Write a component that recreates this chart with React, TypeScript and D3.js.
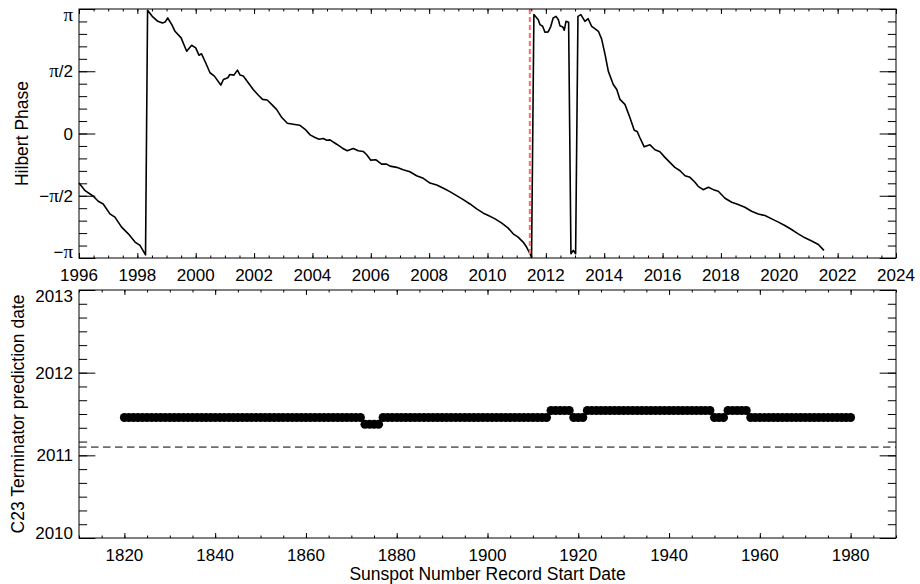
import { useEffect, useRef } from "react";
import * as d3 from "d3";

const WIDTH = 920;
const HEIGHT = 584;
const FONT = "'Liberation Sans', Arial, Helvetica, sans-serif";
const SERIF = "'Liberation Serif', 'Times New Roman', serif";

// Hilbert phase, in units of pi, against decimal year
const phaseYears = [
  1996.0, 1996.21, 1996.49, 1996.66, 1996.83, 1997.06, 1997.23, 1997.46, 1997.69, 1997.92,
  1998.09, 1998.28, 1998.35, 1998.51, 1998.7, 1998.86, 1998.95, 1999.04, 1999.18, 1999.29,
  1999.5, 1999.69, 1999.86, 2000.0, 2000.11, 2000.2, 2000.34, 2000.49, 2000.64, 2000.86,
  2000.95, 2001.1, 2001.17, 2001.31, 2001.43, 2001.52, 2001.63, 2001.8, 2001.97, 2002.14,
  2002.29, 2002.45, 2002.6, 2002.77, 2002.95, 2003.14, 2003.34, 2003.57, 2003.75, 2003.92,
  2004.09, 2004.23, 2004.37, 2004.49, 2004.6, 2004.83, 2005.03, 2005.19, 2005.4, 2005.57,
  2005.74, 2005.86, 2006.0, 2006.18, 2006.37, 2006.54, 2006.66, 2006.89, 2007.11, 2007.34,
  2007.57, 2007.8, 2008.03, 2008.26, 2008.49, 2008.71, 2008.94, 2009.17, 2009.4, 2009.63,
  2009.86, 2010.03, 2010.26, 2010.49, 2010.71, 2010.88, 2011.05, 2011.22, 2011.34, 2011.46,
  2011.51, 2011.59, 2011.74, 2011.8, 2011.89, 2011.97, 2012.08, 2012.17, 2012.25, 2012.35,
  2012.43, 2012.48, 2012.58, 2012.63, 2012.69, 2012.78, 2012.86, 2012.94, 2013.02, 2013.1,
  2013.2, 2013.34, 2013.45, 2013.57, 2013.68, 2013.8, 2013.91, 2014.03, 2014.14, 2014.31,
  2014.43, 2014.54, 2014.71, 2014.88, 2015.03, 2015.13, 2015.22, 2015.37, 2015.57, 2015.74,
  2015.91, 2016.08, 2016.25, 2016.42, 2016.6, 2016.77, 2016.94, 2017.11, 2017.22, 2017.39,
  2017.57, 2017.74, 2017.91, 2018.0, 2018.14, 2018.37, 2018.59, 2018.82, 2019.05, 2019.28,
  2019.51, 2019.74, 2019.97, 2020.19, 2020.42, 2020.65, 2020.88, 2021.11, 2021.34, 2021.53,
];
const phaseValues = [
  -0.398, -0.459, -0.504, -0.544, -0.566, -0.646, -0.672, -0.752, -0.806, -0.872,
  -0.899, -0.975, 0.99, 0.941, 0.901, 0.888, 0.895, 0.928, 0.874, 0.821,
  0.768, 0.661, 0.709, 0.688, 0.629, 0.64, 0.568, 0.488, 0.461, 0.389,
  0.434, 0.448, 0.474, 0.469, 0.509, 0.469, 0.461, 0.408, 0.354, 0.309,
  0.274, 0.269, 0.234, 0.194, 0.128, 0.082, 0.074, 0.066, 0.034, -0.011,
  -0.032, -0.046, -0.04, -0.054, -0.051, -0.086, -0.118, -0.139, -0.12, -0.139,
  -0.144, -0.171, -0.214, -0.211, -0.246, -0.246, -0.262, -0.272, -0.291, -0.307,
  -0.339, -0.36, -0.398, -0.414, -0.44, -0.467, -0.499, -0.531, -0.566, -0.606,
  -0.64, -0.659, -0.686, -0.72, -0.76, -0.806, -0.832, -0.872, -0.912, -0.966,
  -0.995, 0.955, 0.914, 0.874, 0.861, 0.813, 0.816, 0.861, 0.928, 0.941,
  0.914, 0.866, 0.856, 0.829, 0.901, 0.893, -0.966, -0.939, -0.966, 0.941,
  0.955, 0.901, 0.922, 0.861, 0.842, 0.821, 0.76, 0.634, 0.501, 0.394,
  0.354, 0.274, 0.234, 0.128, 0.026, 0.016, -0.032, -0.107, -0.091, -0.131,
  -0.147, -0.192, -0.232, -0.272, -0.299, -0.339, -0.352, -0.392, -0.424, -0.451,
  -0.432, -0.451, -0.464, -0.486, -0.52, -0.552, -0.571, -0.592, -0.624, -0.646,
  -0.659, -0.686, -0.712, -0.739, -0.771, -0.806, -0.838, -0.864, -0.891, -0.939,
];

const phaseTicks = [-1, -0.5, 0, 0.5, 1];
const phaseTickLabels = ["−π", "−π/2", "0", "π/2", "π"];
const phaseYearTicks = [1996, 1998, 2000, 2002, 2004, 2006, 2008, 2010, 2012, 2014, 2016, 2018, 2020, 2022, 2024];
const terminatorDate = 2011.45;

// C23 terminator prediction vs. record start date, as runs of constant value
const predRunStart = [1820, 1873, 1877, 1914, 1919, 1922, 1950, 1953, 1958];
const predRunEnd = [1872, 1876, 1913, 1918, 1921, 1949, 1952, 1957, 1980];
const predRunValue = [2011.458, 2011.375, 2011.458, 2011.542, 2011.458, 2011.542, 2011.458, 2011.542, 2011.458];
const referenceDate = 2011.1;
const startYearTicks = [1820, 1840, 1860, 1880, 1900, 1920, 1940, 1960, 1980];
const predTicks = [2010, 2011, 2012, 2013];

type Scale = d3.ScaleLinear<number, number>;

// IDL-style box: ticks on all four sides, pointing in, minor ticks half length
function drawFrame(
  g: d3.Selection<SVGGElement, unknown, null, undefined>,
  x: Scale,
  y: Scale,
  w: number,
  h: number,
  xMajor: number[],
  xMinor: number[],
  yMajor: number[],
  yMinor: number[],
) {
  const xLen = 0.02 * h;
  const yLen = 0.02 * w;

  const axes = [
    { axis: d3.axisBottom(x), tr: `translate(0,${h})`, major: xMajor, minor: xMinor, len: xLen },
    { axis: d3.axisTop(x), tr: "translate(0,0)", major: xMajor, minor: xMinor, len: xLen },
    { axis: d3.axisLeft(y), tr: "translate(0,0)", major: yMajor, minor: yMinor, len: yLen },
    { axis: d3.axisRight(y), tr: `translate(${w},0)`, major: yMajor, minor: yMinor, len: yLen },
  ];

  axes.forEach(({ axis, tr, major, minor, len }) => {
    [
      { vals: minor, size: len / 2 },
      { vals: major, size: len },
    ].forEach(({ vals, size }) => {
      const a = g
        .append("g")
        .attr("transform", tr)
        .call(axis.tickValues(vals).tickSize(-size).tickFormat(() => ""));
      a.select(".domain").remove();
      a.selectAll("line").attr("stroke", "#000").attr("stroke-width", 1);
    });
  });

  g.append("rect")
    .attr("width", w)
    .attr("height", h)
    .attr("fill", "none")
    .attr("stroke", "#000")
    .attr("stroke-width", 1);
}

function piLabel(
  t: d3.Selection<SVGTextElement, unknown, null, undefined>,
  label: string,
) {
  label.split(/(π)/).forEach((part) => {
    if (!part) return;
    const ts = t.append("tspan").text(part);
    if (part === "π") ts.attr("font-family", SERIF).attr("font-size", 19);
  });
}

export default function App() {
  const svgRef = useRef<SVGSVGElement | null>(null);

  useEffect(() => {
    if (!svgRef.current) return;
    const svg = d3.select(svgRef.current);
    svg.selectAll("*").remove();

    const left = 79;
    const right = 896;
    const w = right - left;

    // ---------- Top panel: Hilbert phase ----------
    const top1 = 9;
    const h1 = 258 - top1;
    const g1 = svg.append("g").attr("transform", `translate(${left},${top1})`);

    const x1 = d3.scaleLinear().domain([1996, 2024]).range([0, w]);
    const y1 = d3.scaleLinear().domain([-Math.PI, Math.PI]).range([h1, 0]);

    const phaseData = phaseYears.map((yr, i) => ({ x: yr, y: phaseValues[i] * Math.PI }));

    const line = d3
      .line<{ x: number; y: number }>()
      .x((d) => x1(d.x))
      .y((d) => y1(d.y));

    g1.append("path")
      .datum(phaseData)
      .attr("fill", "none")
      .attr("stroke", "#000")
      .attr("stroke-width", 1.6)
      .attr("stroke-linejoin", "round")
      .attr("d", line);

    // terminator marker (dashed red)
    g1.append("line")
      .attr("x1", x1(terminatorDate))
      .attr("x2", x1(terminatorDate))
      .attr("y1", 0)
      .attr("y2", h1)
      .attr("stroke", "#ff6b6b")
      .attr("stroke-width", 2)
      .attr("stroke-dasharray", "5,3");

    drawFrame(
      g1,
      x1,
      y1,
      w,
      h1,
      phaseYearTicks,
      d3.range(1996, 2024.01, 0.5),
      phaseTicks.map((v) => v * Math.PI),
      d3.range(-10, 11).map((k) => (k * Math.PI) / 10),
    );

    phaseYearTicks.forEach((yr) => {
      g1.append("text")
        .attr("x", x1(yr))
        .attr("y", h1 + 23)
        .attr("text-anchor", "middle")
        .attr("font-family", FONT)
        .attr("font-size", 17)
        .text(String(yr));
    });

    phaseTicks.forEach((v, i) => {
      const ty = Math.min(Math.max(y1(v * Math.PI) + 6, 12), h1);
      const t = g1
        .append("text")
        .attr("x", -6)
        .attr("y", ty)
        .attr("text-anchor", "end")
        .attr("font-family", FONT)
        .attr("font-size", 17);
      piLabel(t, phaseTickLabels[i]);
    });

    svg
      .append("text")
      .attr("transform", `translate(28,${top1 + h1 / 2}) rotate(-90)`)
      .attr("text-anchor", "middle")
      .attr("font-family", FONT)
      .attr("font-size", 17.5)
      .text("Hilbert Phase");

    // ---------- Bottom panel: C23 terminator prediction ----------
    const top2 = 290;
    const h2 = 538 - top2;
    const g2 = svg.append("g").attr("transform", `translate(${left},${top2})`);

    const x2 = d3.scaleLinear().domain([1810, 1990]).range([0, w]);
    const y2 = d3.scaleLinear().domain([2010, 2013]).range([h2, 0]);

    g2.append("line")
      .attr("x1", 0)
      .attr("x2", w)
      .attr("y1", y2(referenceDate))
      .attr("y2", y2(referenceDate))
      .attr("stroke", "#000")
      .attr("stroke-width", 1)
      .attr("stroke-dasharray", "7.5,4.5");

    const predData = predRunStart.flatMap((s, i) =>
      d3.range(s, predRunEnd[i] + 1).map((yr) => ({ x: yr, y: predRunValue[i] })),
    );

    g2.selectAll("circle")
      .data(predData)
      .join("circle")
      .attr("cx", (d) => x2(d.x))
      .attr("cy", (d) => y2(d.y))
      .attr("r", 4.5)
      .attr("fill", "#000");

    drawFrame(
      g2,
      x2,
      y2,
      w,
      h2,
      startYearTicks,
      d3.range(1810, 1990.01, 5),
      predTicks,
      d3.range(0, 19).map((k) => 2010 + k / 6),
    );

    startYearTicks.forEach((yr) => {
      g2.append("text")
        .attr("x", x2(yr))
        .attr("y", h2 + 23)
        .attr("text-anchor", "middle")
        .attr("font-family", FONT)
        .attr("font-size", 17)
        .text(String(yr));
    });

    predTicks.forEach((v) => {
      const ty = Math.min(Math.max(y2(v) + 6, 12), h2 + 1);
      g2.append("text")
        .attr("x", -6)
        .attr("y", ty)
        .attr("text-anchor", "end")
        .attr("font-family", FONT)
        .attr("font-size", 17)
        .text(String(v));
    });

    svg
      .append("text")
      .attr("transform", `translate(24,${top2 + h2 / 2}) rotate(-90)`)
      .attr("text-anchor", "middle")
      .attr("font-family", FONT)
      .attr("font-size", 17.5)
      .text("C23 Terminator prediction date");

    svg
      .append("text")
      .attr("x", left + w / 2)
      .attr("y", 580)
      .attr("text-anchor", "middle")
      .attr("font-family", FONT)
      .attr("font-size", 17.5)
      .text("Sunspot Number Record Start Date");
  }, []);

  return (
    <svg
      ref={svgRef}
      width={WIDTH}
      height={HEIGHT}
      style={{ position: "absolute", left: 0, top: 0, background: "#fff" }}
    />
  );
}
